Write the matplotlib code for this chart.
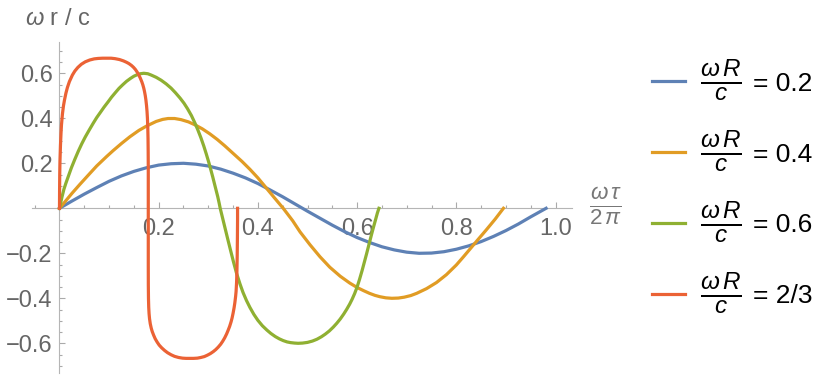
import numpy as np
import matplotlib
matplotlib.use("Agg")
import matplotlib.pyplot as plt
from matplotlib.lines import Line2D

plt.rcParams["font.family"] = ["Liberation Sans", "DejaVu Sans"]
plt.rcParams["mathtext.fontset"] = "custom"
plt.rcParams["mathtext.rm"] = "Liberation Sans"
plt.rcParams["mathtext.it"] = "Liberation Sans:italic"

# values (x = omega tau / 2 pi, y = omega r / c)
blue_x = [0, 0.025, 0.05, 0.075, 0.10, 0.125, 0.15, 0.175, 0.20, 0.225, 0.25, 0.275,
          0.30, 0.325, 0.35, 0.375, 0.40, 0.425, 0.45, 0.475, 0.50, 0.525, 0.55, 0.575,
          0.60, 0.625, 0.65, 0.675, 0.70, 0.725, 0.75, 0.775, 0.80, 0.825, 0.85, 0.875,
          0.90, 0.925, 0.95, 0.981]
blue_y = [0, 0.032, 0.063, 0.092, 0.120, 0.144, 0.164, 0.180, 0.192, 0.198, 0.200, 0.196,
          0.188, 0.174, 0.156, 0.135, 0.110, 0.081, 0.051, 0.019, -0.013, -0.044, -0.075, -0.104,
          -0.130, -0.152, -0.171, -0.185, -0.195, -0.200, -0.199, -0.193, -0.182, -0.167, -0.148, -0.125,
          -0.099, -0.070, -0.038, 0.0]

orange_x = [0, 0.01, 0.025, 0.041, 0.06, 0.075, 0.095, 0.108, 0.125, 0.142, 0.16, 0.176,
            0.195, 0.208, 0.219, 0.232, 0.245, 0.26, 0.273, 0.288, 0.303, 0.318, 0.333, 0.35,
            0.368, 0.384, 0.40, 0.414, 0.432, 0.451, 0.47, 0.485, 0.505, 0.525, 0.545, 0.566,
            0.585, 0.60, 0.613, 0.625, 0.636, 0.646, 0.658, 0.670, 0.683, 0.695, 0.708, 0.72,
            0.74, 0.76, 0.78, 0.80, 0.815, 0.828, 0.841, 0.86, 0.878, 0.895]
orange_y = [0, 0.026, 0.066, 0.106, 0.152, 0.188, 0.230, 0.256, 0.288, 0.318, 0.346, 0.366,
            0.386, 0.395, 0.399, 0.399, 0.394, 0.384, 0.371, 0.353, 0.331, 0.306, 0.278, 0.244,
            0.208, 0.173, 0.135, 0.098, 0.05, 0.0, -0.055, -0.105, -0.162, -0.215, -0.262, -0.302,
            -0.332, -0.352, -0.366, -0.378, -0.387, -0.393, -0.398, -0.400, -0.399, -0.395, -0.388, -0.378,
            -0.357, -0.330, -0.295, -0.252, -0.214, -0.180, -0.146, -0.097, -0.049, 0.0]

green_x = [0, 0.002, 0.005, 0.009, 0.013, 0.018, 0.024, 0.031, 0.038, 0.045, 0.052, 0.06,
           0.068, 0.075, 0.083, 0.09, 0.098, 0.105, 0.113, 0.12, 0.128, 0.135, 0.143, 0.15,
           0.157, 0.163, 0.17, 0.178, 0.185, 0.195, 0.205, 0.215, 0.225, 0.234, 0.243, 0.251,
           0.258, 0.266, 0.273, 0.279, 0.285, 0.291, 0.296, 0.301, 0.305, 0.309, 0.313, 0.316,
           0.319, 0.322, 0.324, 0.327, 0.330, 0.334, 0.339, 0.345, 0.351, 0.357, 0.364, 0.370,
           0.377, 0.384, 0.392, 0.40, 0.409, 0.418, 0.426, 0.435, 0.443, 0.451, 0.459, 0.466,
           0.474, 0.481, 0.49, 0.50, 0.51, 0.519, 0.528, 0.536, 0.544, 0.552, 0.559, 0.566,
           0.573, 0.579, 0.585, 0.590, 0.595, 0.600, 0.605, 0.610, 0.615, 0.619, 0.624, 0.629,
           0.633, 0.637, 0.641, 0.644]
green_y = [0, 0.02, 0.05, 0.085, 0.112, 0.143, 0.18, 0.218, 0.254, 0.287, 0.317, 0.348,
           0.378, 0.403, 0.428, 0.450, 0.473, 0.494, 0.515, 0.533, 0.550, 0.564, 0.577, 0.587,
           0.594, 0.598, 0.600, 0.598, 0.592, 0.582, 0.569, 0.553, 0.534, 0.513, 0.490, 0.467,
           0.443, 0.412, 0.379, 0.348, 0.314, 0.276, 0.241, 0.204, 0.172, 0.139, 0.104, 0.078,
           0.052, 0.022, 0.0, -0.027, -0.054, -0.090, -0.135, -0.188, -0.240, -0.289, -0.337, -0.374,
           -0.410, -0.441, -0.472, -0.498, -0.522, -0.541, -0.556, -0.570, -0.580, -0.588, -0.594, -0.597,
           -0.599, -0.600, -0.599, -0.596, -0.590, -0.582, -0.571, -0.559, -0.545, -0.528, -0.511, -0.492,
           -0.470, -0.449, -0.426, -0.404, -0.379, -0.350, -0.315, -0.277, -0.236, -0.203, -0.160, -0.117,
           -0.084, -0.052, -0.020, 0.0]

red_x = [0, 0.0002, 0.0005, 0.001, 0.002, 0.003, 0.004, 0.006, 0.008, 0.010, 0.013, 0.016,
         0.020, 0.026, 0.031, 0.037, 0.044, 0.052, 0.061, 0.070, 0.078, 0.087, 0.095, 0.104,
         0.112, 0.121, 0.129, 0.135, 0.140, 0.145, 0.149, 0.153, 0.157, 0.160, 0.163, 0.166,
         0.168, 0.170, 0.1715, 0.173, 0.1743, 0.1755, 0.1765, 0.1773, 0.178, 0.1785, 0.1788,
         0.179, 0.179, 0.179, 0.179, 0.1791, 0.1794, 0.1799, 0.1806, 0.1815, 0.183, 0.185,
         0.187, 0.190, 0.193, 0.197, 0.201, 0.206, 0.212, 0.218, 0.225, 0.232, 0.240, 0.248,
         0.255, 0.263, 0.270, 0.278, 0.285, 0.292, 0.298, 0.304, 0.310, 0.315, 0.320, 0.325,
         0.329, 0.333, 0.337, 0.340, 0.343, 0.346, 0.348, 0.350, 0.352, 0.3535, 0.355, 0.356,
         0.357, 0.3577, 0.3583, 0.3587, 0.359, 0.359]
red_y = [0, 0.08, 0.15, 0.21, 0.28, 0.33, 0.37, 0.42, 0.455, 0.48, 0.512, 0.537,
         0.563, 0.592, 0.610, 0.626, 0.640, 0.651, 0.659, 0.664, 0.666, 0.667, 0.667, 0.667,
         0.665, 0.661, 0.655, 0.649, 0.643, 0.635, 0.627, 0.617, 0.604, 0.592, 0.578, 0.562,
         0.549, 0.533, 0.518, 0.500, 0.480, 0.456, 0.430, 0.400, 0.360, 0.310, 0.250,
         0.18, 0.05, -0.10, -0.25, -0.34, -0.40, -0.44, -0.468, -0.490, -0.513, -0.533,
         -0.548, -0.565, -0.580, -0.595, -0.608, -0.620, -0.632, -0.642, -0.651, -0.658, -0.663, -0.666,
         -0.667, -0.667, -0.667, -0.666, -0.663, -0.659, -0.653, -0.646, -0.637, -0.628, -0.617, -0.604,
         -0.591, -0.576, -0.558, -0.542, -0.525, -0.504, -0.487, -0.466, -0.442, -0.42, -0.393, -0.37,
         -0.33, -0.28, -0.21, -0.13, -0.05, 0.0]

series_labels = ["0.2", "0.4", "0.6", "2/3"]
series_colors = ["#5E81B5", "#E19C24", "#8FB032", "#EB6235"]

x_major = [0.2, 0.4, 0.6, 0.8, 1.0]
x_minor = [round(-0.05 + 0.05 * i, 2) for i in range(22)]
y_major = [-0.6, -0.4, -0.2, 0.2, 0.4, 0.6]
y_minor = [round(-0.7 + 0.05 * i, 2) for i in range(29)]

W, H = 830, 380
fig = plt.figure(figsize=(W / 100, H / 100), dpi=100)
ax = fig.add_axes([32.2 / W, 7 / H, (571.9 - 32.2) / W, 331 / H])

curves = [(blue_x, blue_y), (orange_x, orange_y), (green_x, green_y), (red_x, red_y)]
for (xs, ys), color in zip(curves, series_colors):
    ax.plot(xs, ys, color=color, lw=2.3, solid_joinstyle="round", zorder=3)

ax.set_xlim(-0.055, 1.033)
ax.set_ylim(-0.732, 0.739)

for side in ("top", "right"):
    ax.spines[side].set_visible(False)
for side in ("left", "bottom"):
    ax.spines[side].set_position(("data", 0))
    ax.spines[side].set_color("#b5b5b5")
    ax.spines[side].set_linewidth(0.8)

ax.set_xticks(x_major)
ax.set_xticklabels([f"{v:.1f}" for v in x_major])
ax.set_xticks(x_minor, minor=True)
ax.set_yticks(y_major)
ax.set_yticklabels([f"{v:.1f}".replace("-", "\u2212") for v in y_major])
ax.set_yticks(y_minor, minor=True)

ax.tick_params(which="both", direction="in", color="#aaaaaa", width=0.8)
ax.tick_params(which="major", length=4.5, labelsize=17, labelcolor="#666666")
ax.tick_params(which="minor", length=2.5)
ax.tick_params(axis="x", which="major", pad=7)
ax.tick_params(axis="y", which="major", pad=5)

fig.text(25 / W, 1 - 19 / H, r"$\omega$ r / c", fontsize=17, color="#666666",
         ha="left", va="center")
fig.text(606 / W, 1 - 206 / H, r"$\frac{\omega\,\tau}{2\,\pi}$", fontsize=23,
         color="#777777", ha="center", va="center")

# legend: line + "= value", fractions added next to each label afterwards
fs_px = 19 * 100 / 72
handles = [Line2D([], [], color=c, lw=2.3) for c in series_colors]
leg = fig.legend(handles, ["= " + s for s in series_labels], loc="center left",
                 bbox_to_anchor=(641 / W, 1 - 190 / H), frameon=False, fontsize=19,
                 handlelength=33 / fs_px, handletextpad=68 / fs_px,
                 labelspacing=1.78, borderaxespad=0)
fig.canvas.draw()
for txt in leg.get_texts():
    bb = txt.get_window_extent()
    yc = (bb.y0 + bb.y1) / 2 + 3
    fig.text((bb.x0 - 31.5) / W, yc / H, r"$\frac{\omega\,R}{c}$", fontsize=25,
             color="black", ha="center", va="center")

fig.savefig("out.png", dpi=100)
